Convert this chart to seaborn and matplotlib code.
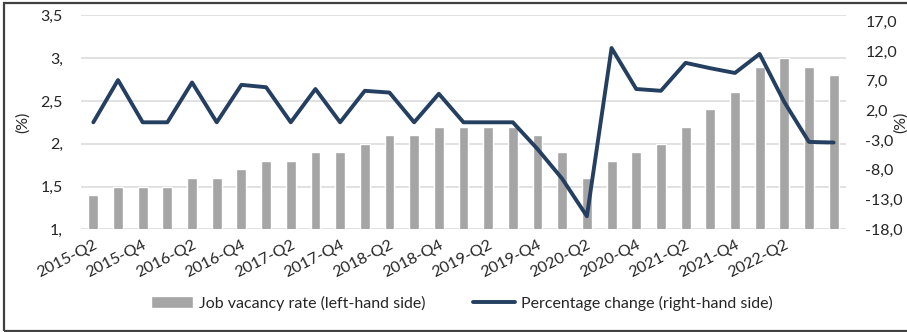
import numpy as np
import pandas as pd
import matplotlib
matplotlib.use("Agg")
import matplotlib.pyplot as plt
from matplotlib.patches import Rectangle
import seaborn as sns

quarters = [f"{y}-Q{q}" for y in range(2015, 2023) for q in range(1, 5)][1:]
vacancy_rate = [1.4, 1.5, 1.5, 1.5, 1.6, 1.6, 1.7, 1.8, 1.8, 1.9, 1.9, 2.0, 2.1, 2.1, 2.2,
                2.2, 2.2, 2.2, 2.1, 1.9, 1.6, 1.8, 1.9, 2.0, 2.2, 2.4, 2.6, 2.9, 3.0, 2.9, 2.8]
pct_change = [0.0, 7.1, 0.0, 0.0, 6.7, 0.0, 6.3, 5.9, 0.0, 5.6, 0.0, 5.3, 5.0, 0.0, 4.8,
              0.0, 0.0, 0.0, -4.5, -9.5, -15.8, 12.5, 5.6, 5.3, 10.0, 9.1, 8.3, 11.5, 3.4, -3.3, -3.4]
tick_quarters = ["2015-Q2", "2015-Q4", "2016-Q2", "2016-Q4", "2017-Q2", "2017-Q4", "2018-Q2",
                 "2018-Q4", "2019-Q2", "2019-Q4", "2020-Q2", "2020-Q4", "2021-Q2", "2021-Q4", "2022-Q2"]
left_ticks = [1.0, 1.5, 2.0, 2.5, 3.0, 3.5]
left_labels = ["1,", "1,5", "2,", "2,5", "3,", "3,5"]
right_ticks = [-18, -13, -8, -3, 2, 7, 12, 17]
right_labels = ["-18,0", "-13,0", "-8,0", "-3,0", "2,0", "7,0", "12,0", "17,0"]

df = pd.DataFrame({"quarter": quarters, "rate": vacancy_rate, "pct": pct_change})

sns.set_theme(style="white")
plt.rcParams["font.family"] = ["Lato", "DejaVu Sans"]
FS = 11.5
TXT = "#262626"

fig = plt.figure(figsize=(9.07, 3.32), dpi=100)
ax = fig.add_axes([81/907, 1-229.3/332, (846-81)/907, (229.3-15.3)/332])

sns.barplot(data=df, x="quarter", y="rate", color="#A5A5A5", saturation=1,
            width=0.4, ax=ax, label="Job vacancy rate (left-hand side)", zorder=2)
ax.set_ylim(1.0, 3.5)
ax.set_xlim(-0.5, len(quarters) - 0.5)
ax.set_yticks(left_ticks)
ax.set_yticklabels(left_labels, fontsize=FS, color=TXT)
ax.yaxis.grid(True, color="#D9D9D9", linewidth=1.1, zorder=0)
ax.set_axisbelow(True)
for s in ax.spines.values():
    s.set_visible(False)
ax.tick_params(axis="both", length=0)
ax.tick_params(axis="y", pad=13)
xt = [quarters.index(q) for q in tick_quarters]
ax.set_xticks(xt)
ax.set_xticklabels(tick_quarters, rotation=27, ha="right",
                   rotation_mode="anchor", fontsize=FS, color=TXT)
ax.tick_params(axis="x", pad=6)
ax.set_xlabel("")
ax.set_ylabel("(%)", fontsize=FS, color=TXT)
ax.yaxis.set_label_coords((30 - 81) / (846 - 81), 0.5)

ax2 = ax.twinx()
sns.lineplot(data=df, x="quarter", y="pct", color="#243F60", linewidth=2.8,
             ax=ax2, label="Percentage change (right-hand side)", sort=False, zorder=3)
ax2.set_ylim(-18, 18)
ax2.set_yticks(right_ticks)
ax2.set_yticklabels(right_labels, fontsize=FS, color=TXT)
ax2.tick_params(axis="y", length=0, pad=14)
ax2.grid(False)
for s in ax2.spines.values():
    s.set_visible(False)
ax2.set_ylabel("(%)", fontsize=FS, color=TXT, rotation=90, va="center", ha="center")
ax2.yaxis.set_label_coords((901 - 81) / (846 - 81), 0.5)
ax2.set_xlabel("")
ax2.set_xlim(-0.5, len(quarters) - 0.5)

h1, l1 = ax.get_legend_handles_labels()
h2, l2 = ax2.get_legend_handles_labels()
if ax.get_legend():
    ax.get_legend().remove()
if ax2.get_legend():
    ax2.get_legend().remove()
fig.legend(h1 + h2, l1 + l2, loc="center", bbox_to_anchor=(462/907, 1-303/332),
           ncol=2, frameon=False, fontsize=FS, handlelength=2.6, columnspacing=3.0,
           handletextpad=0.4, labelcolor=TXT)

fig.patches.append(Rectangle((4/907, 1/332), 1.0, 1-4/332, transform=fig.transFigure,
                             fill=False, edgecolor="#404040", linewidth=1.6))

fig.savefig("out.png", dpi=100)
